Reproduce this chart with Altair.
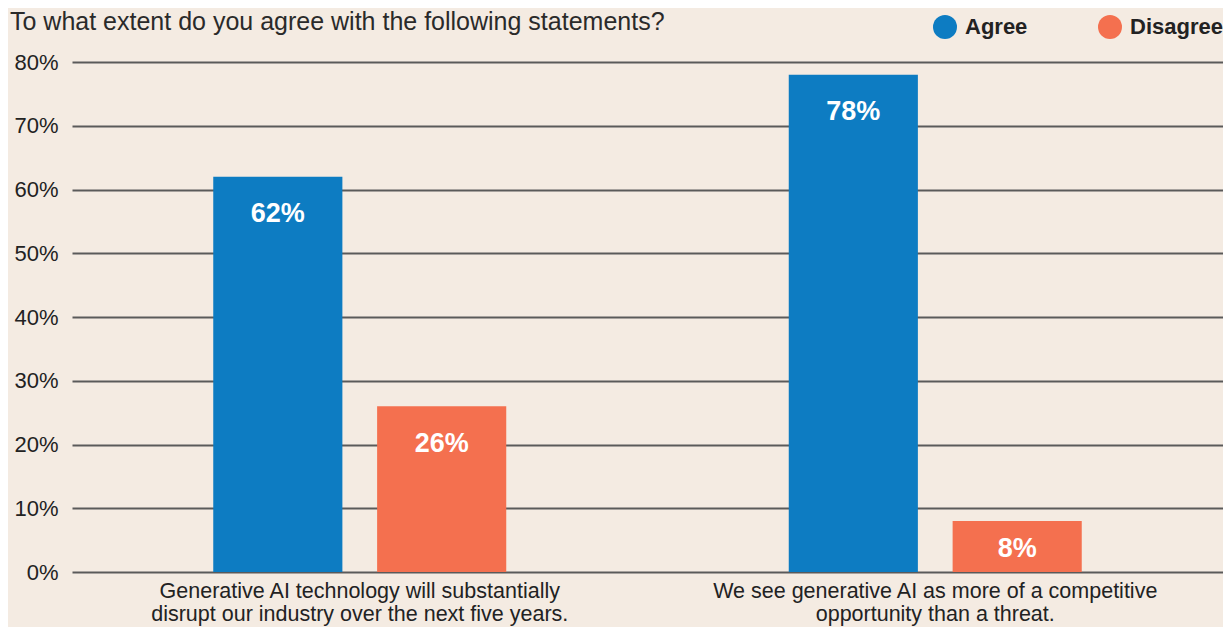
import altair as alt
import pandas as pd

title_text = "To what extent do you agree with the following statements?"
statements = [
    "Generative AI technology will substantially\ndisrupt our industry over the next five years.",
    "We see generative AI as more of a competitive\nopportunity than a threat.",
]
responses = ["Agree", "Disagree"]
agree = [62, 78]
disagree = [26, 8]
y_ticks = [0, 10, 20, 30, 40, 50, 60, 70, 80]
colors = ["#0d7cc2", "#f4704f"]

rows = []
for s, a, d in zip(statements, agree, disagree):
    rows.append({"statement": s, "response": "Agree", "value": a})
    rows.append({"statement": s, "response": "Disagree", "value": d})
df = pd.DataFrame(rows)
df["label"] = df["value"].astype(str) + "%"

font = "Liberation Sans"

base = alt.Chart(df).encode(
    x=alt.X(
        "statement:N",
        sort=statements,
        scale=alt.Scale(paddingInner=0, paddingOuter=0),
        axis=alt.Axis(
            title=None,
            labelExpr="split(datum.label, '\\n')",
            labelAngle=0,
            labelFontSize=21.5,
            labelLineHeight=23,
            labelLimit=0,
            labelColor="#222222",
            labelFont=font,
            labelPadding=8,
            domain=False,
            ticks=False,
            grid=False,
        ),
    ),
    xOffset=alt.XOffset(
        "response:N",
        sort=responses,
        scale=alt.Scale(paddingInner=0.212, paddingOuter=0.862),
    ),
)

bars = base.mark_bar().encode(
    y=alt.Y(
        "value:Q",
        scale=alt.Scale(domain=[0, 80], nice=False),
        axis=alt.Axis(
            title=None,
            values=y_ticks,
            labelExpr="datum.value + '%'",
            labelFontSize=22,
            labelColor="#222222",
            labelFont=font,
            labelPadding=14,
            domain=False,
            ticks=False,
            grid=True,
            gridColor="#5a5a5a",
            gridWidth=2,
        ),
    ),
    color=alt.Color(
        "response:N",
        sort=responses,
        scale=alt.Scale(domain=responses, range=colors),
        legend=alt.Legend(
            orient="none",
            legendX=861,
            legendY=-47,
            direction="horizontal",
            title=None,
            symbolType="circle",
            symbolSize=576,
            symbolStrokeWidth=0,
            symbolOpacity=1,
            labelFontSize=22,
            labelFont=font,
            labelFontWeight="bold",
            labelColor="#222222",
            labelOffset=8,
            columnPadding=70,
            padding=0,
        ),
    ),
)

labels = base.transform_calculate(
    label_y="max(datum.value - 5.6, datum.value / 2)"
).mark_text(
    color="white", fontWeight="bold", fontSize=27, font=font, baseline="middle", dy=2
).encode(
    y=alt.Y("label_y:Q"),
    text="label:N",
)

title = alt.Chart(pd.DataFrame({"t": [title_text]})).mark_text(
    align="left", baseline="alphabetic", fontSize=25, font=font, color="#2a2a2a"
).encode(x=alt.value(-62), y=alt.value(-32), text="t:N")

chart = alt.layer(bars, labels, title).properties(
    width=1151,
    height=510,
    autosize="none",
    padding={"left": 64, "top": 54, "right": 0, "bottom": 55},
    background="#f4ebe2",
).configure_view(stroke=None)

chart.save("out.html", embed_options={"renderer": "svg", "actions": False})
